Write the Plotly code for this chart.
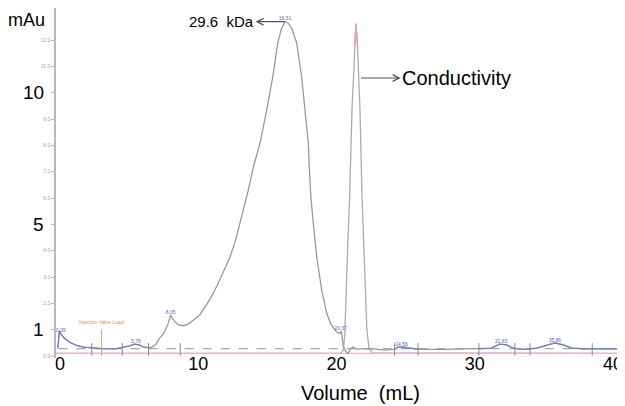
import plotly.graph_objects as go

# ---------------- data ----------------
uv_x = [-0.15, -0.05, 0.05, 0.3, 0.7, 1.2, 1.7, 2.3, 3.0, 4.0, 4.6, 5.0, 5.4, 5.7, 6.0, 6.5,
        6.9, 7.2, 7.5, 7.8, 8.0, 8.3, 8.6, 8.92, 9.3, 9.64, 10.1, 10.6, 11.0, 11.45, 11.9,
        12.3, 12.7, 13.02, 13.38, 13.62, 14.0, 14.47, 14.95, 15.39, 15.75, 16.0, 16.27,
        16.5, 16.76, 17.12, 17.48, 17.72, 17.96, 18.05, 18.15, 18.32, 18.57, 18.93, 19.29,
        19.6, 20.0, 20.25, 20.35, 20.5, 20.7, 20.85, 21.0, 21.2, 21.45, 21.7, 22.5, 23.5,
        24.2, 24.5, 25.0, 25.5, 26.0, 28.0, 30.3, 31.2, 31.8, 32.3, 32.8, 33.5, 34.5, 35.2,
        35.8, 36.4, 37.0, 38.0, 39.0, 40.0, 40.9]
uv_y = [0.30, 0.95, 0.85, 0.68, 0.52, 0.40, 0.34, 0.30, 0.28, 0.27, 0.32, 0.38, 0.45, 0.42, 0.35, 0.30,
        0.42, 0.68, 0.85, 1.20, 1.55, 1.30, 1.18, 1.15, 1.22, 1.35, 1.55, 1.95, 2.30, 2.77, 3.30,
        3.76, 4.40, 5.05, 5.70, 6.30, 7.20, 8.09, 9.34, 10.60, 11.89, 12.40, 12.70,
        12.65, 12.45, 11.89, 10.60, 9.34, 8.09, 7.00, 6.00, 5.05, 3.76, 2.50, 1.63,
        1.20, 0.92, 0.85, 0.95, 0.35, 0.15, 0.10, 0.25, 0.35, 0.25, 0.27, 0.28, 0.22,
        0.25, 0.35, 0.33, 0.28, 0.25, 0.25, 0.27, 0.30, 0.45, 0.42, 0.30, 0.25, 0.30, 0.42,
        0.50, 0.42, 0.30, 0.27, 0.27, 0.27, 0.27]

cond_x = [-0.3, 20.3, 20.5, 20.6, 20.8, 20.95, 21.12, 21.3, 21.41, 21.52, 21.7, 21.85, 22.0,
          22.2, 22.35, 22.6, 40.9]
cond_y = [0.10, 0.10, 0.25, 0.80, 4.00, 6.00, 9.34, 11.80, 12.63, 11.80, 9.34, 6.00, 3.50,
          1.00, 0.30, 0.12, 0.10]

baseline_x = [-0.1, 40.9]
baseline_y = [0.28, 0.28]

blue_ranges = [(-0.2, 6.6), (24.1, 26.1), (30.2, 41.0)]
pink_tip_min = 11.0

peak_x = [0.05, 5.5, 8.0, 16.27, 20.3, 24.7, 31.9, 35.8]
peak_y = [0.85, 0.45, 1.55, 12.70, 0.95, 0.35, 0.45, 0.50]
peak_labels = ["0.09", "5.76", "8.05", "16.31", "20.37", "24.56", "31.83", "35.86"]

frac_x = [2.3, 4.5, 6.4, 8.7, 24.2, 25.9, 30.3, 32.9, 34.0, 38.5]

inj_x = [3.0, 3.0]
inj_y = [0.0, 1.0]

x_ticks = [0, 10, 20, 30, 40]
y_small_ticks = list(range(0, 13))
y_small_text = ["0.0", "", "2.0", "3.0", "4.0", "", "6.0", "7.0", "8.0", "9.0", "", "11.0", "12.0"]
y_big_ticks = [10, 5, 1]

FONT = "Liberation Sans, Arial, sans-serif"

# ---------------- figure ----------------
fig = go.Figure()

# conductivity trace (grey peak) and its pink baseline
fig.add_trace(go.Scatter(x=cond_x, y=cond_y, mode="lines",
                         line=dict(color="#b3a9ab", width=1.3), hoverinfo="skip"))
fig.add_trace(go.Scatter(x=[cond_x[0], cond_x[-1]], y=[cond_y[0], cond_y[-1]], mode="lines",
                         line=dict(color="#e8b8c0", width=1.3), hoverinfo="skip"))
# pink tip of the conductivity peak
tip_y = [y if y >= pink_tip_min else None for y in cond_y]
fig.add_trace(go.Scatter(x=cond_x, y=tip_y, mode="lines", connectgaps=False,
                         line=dict(color="#e4a4b0", width=1.3), hoverinfo="skip"))
# dashed baseline
fig.add_trace(go.Scatter(x=baseline_x, y=baseline_y, mode="lines",
                         line=dict(color="#a9a9a9", width=1.2, dash="dash"), hoverinfo="skip"))
# UV trace
fig.add_trace(go.Scatter(x=uv_x, y=uv_y, mode="lines",
                         line=dict(color="#999999", width=1.3), hoverinfo="skip"))
# blue integrated baseline portions
blue_y = [y if any(a <= x <= b for a, b in blue_ranges) else None for x, y in zip(uv_x, uv_y)]
fig.add_trace(go.Scatter(x=uv_x, y=blue_y, mode="lines", connectgaps=False,
                         line=dict(color="#7080c4", width=1.2), hoverinfo="skip"))
# fraction markers
fig.add_trace(go.Scatter(x=frac_x, y=[0.25] * len(frac_x), mode="markers",
                         marker=dict(symbol="line-ns", size=9,
                                     line=dict(color="#7a86b8", width=1)),
                         hoverinfo="skip"))
# injection marker
fig.add_trace(go.Scatter(x=inj_x, y=inj_y, mode="lines",
                         line=dict(color="#d2aa70", width=1), hoverinfo="skip"))
# tiny peak labels
fig.add_trace(go.Scatter(x=peak_x, y=peak_y, mode="text", text=peak_labels,
                         textposition="top center",
                         textfont=dict(size=5, color="#5a68b0", family=FONT),
                         hoverinfo="skip"))

# the page body adds an 8px offset, so the figure is 8px smaller on each side
fig.update_layout(
    width=617, height=398,
    margin=dict(l=48, r=0, t=0, b=48, autoexpand=False),
    paper_bgcolor="white", plot_bgcolor="white",
    showlegend=False,
    font=dict(family=FONT, color="black"),
    xaxis=dict(range=[-0.29, 40.87], showgrid=False, zeroline=False, showline=False,
               automargin=False,
               tickvals=x_ticks, ticktext=[str(v) for v in x_ticks], ticks="",
               ticklabelstandoff=-7,
               tickfont=dict(size=18, color="black", family=FONT)),
    yaxis=dict(range=[-0.076, 13.22], showgrid=False, zeroline=False, showline=True,
               automargin=False,
               linecolor="#b6b6c6", linewidth=1.5, ticks="outside", ticklen=3,
               tickcolor="#b6b6c6", tickvals=y_small_ticks, ticktext=y_small_text,
               tickfont=dict(size=5, color="#a0a0a0", family=FONT)),
)

ann = []
for v in y_big_ticks:
    ann.append(dict(x=-0.017, xref="paper", y=v, yref="y", text=str(v), showarrow=False,
                    xanchor="right", yanchor="middle", font=dict(size=19, color="black")))
ann.append(dict(x=-0.051, xref="paper", y=0.966, yref="paper", text="mAu", showarrow=False,
                xanchor="center", yanchor="middle", font=dict(size=18, color="black")))
ann.append(dict(x=0.536, xref="paper", y=-0.1, yref="paper", text="Volume\u00a0 (mL)",
                showarrow=False, xanchor="center", yanchor="middle",
                font=dict(size=20, color="black")))
# 29.6 kDa label with arrow pointing from peak to text
ann.append(dict(x=16.27, y=12.7, xref="x", yref="y", ax=11.68, ay=12.7, axref="x", ayref="y",
                text="29.6\u00a0 kDa", showarrow=True, arrowside="start", startarrowhead=5,
                startarrowsize=1.1, arrowwidth=1.2, arrowcolor="#555555",
                font=dict(size=15, color="black")))
# Conductivity label with arrow
ann.append(dict(x=21.77, y=10.56, xref="x", yref="y", ax=28.7, ay=10.56, axref="x", ayref="y",
                text="Conductivity", showarrow=True, arrowside="start", startarrowhead=5,
                startarrowsize=1.1, arrowwidth=1.2, arrowcolor="#555555",
                font=dict(size=20, color="black")))
# injection text
ann.append(dict(x=3.0, y=1.29, xref="x", yref="y", text="Injection Valve Load",
                showarrow=False, font=dict(size=5, color="#c89850")))
fig.update_layout(annotations=ann)

fig.write_html("out.html")
